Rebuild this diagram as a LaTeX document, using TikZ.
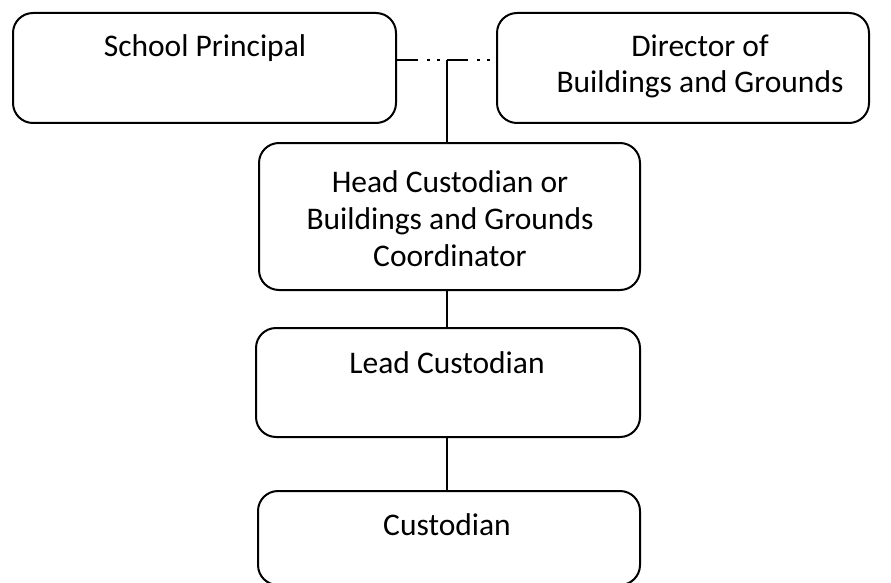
\documentclass[tikz,border=0pt]{standalone}
\usepackage{fontspec}
\setmainfont{Carlito}
\begin{document}
\begin{tikzpicture}[x=1pt,y=-1pt,
  box/.style={draw=black, line width=2pt, rounded corners=20pt, inner sep=0pt, fill=white},
  txt/.style={anchor=base, inner sep=0pt, font=\fontsize{31.5}{38}\selectfont},
  link/.style={draw=black, line width=2pt}]
\clip (0,0) rectangle (891,583);
\fill[white] (0,0) rectangle (891,583);
% boxes
\node[box, minimum width=383pt, minimum height=110pt] (sp) at (204.5,68) {};
\node[box, minimum width=372pt, minimum height=110pt] (dir) at (683,68) {};
\node[box, minimum width=381pt, minimum height=147pt] (head) at (449.5,216.5) {};
\node[box, minimum width=384pt, minimum height=109pt] (lead) at (448,382.5) {};
\node[box, minimum width=382pt, minimum height=94pt] (cust) at (449,538) {};
% texts
\node[txt] (sptxt) at (205,57) {School Principal};
\node[txt] (dir1) at (700,57) {Director of};
\node[txt] (dir2) at (700,93) {Buildings and Grounds};
\node[txt] (hc1) at (450,192) {Head Custodian or};
\node[txt] (hc2) at (450,229) {Buildings and Grounds};
\node[txt] (hc3) at (450,266) {Coordinator};
\node[txt] (lctxt) at (447,373) {Lead Custodian};
\node[txt] (cutxt) at (447,535) {Custodian};
% connectors
\coordinate (j) at (447,60);
\draw[link, dash pattern=on 21pt off 9pt on 3pt off 7pt on 3pt off 7pt] (sp.east |- j) -- (dir.west |- j);
\draw[link] (j) -- (j |- head.north);
\draw[link] (j |- head.south) -- (j |- lead.north);
\draw[link] (j |- lead.south) -- (j |- cust.north);
\end{tikzpicture}
\end{document}
